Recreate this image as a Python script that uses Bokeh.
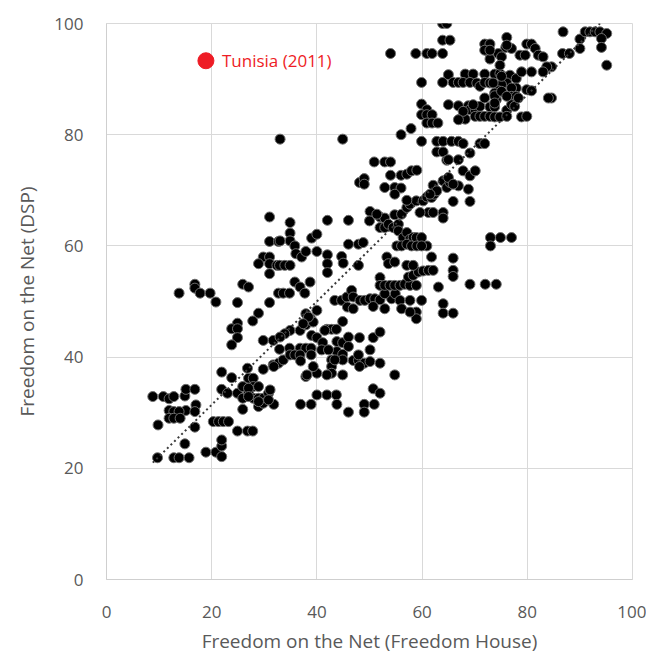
import numpy as np
from bokeh.plotting import figure
from bokeh.models import FixedTicker, ColumnDataSource
from bokeh.core.properties import value
from bokeh.embed import file_html
from bokeh.resources import INLINE

# ---- data: (Freedom House score, DSP score) ----
cluster_low = [(8.8,32.9),(10.8,32.9),(11.9,32.5),(12.8,32.9),(14.9,33.0),(15.1,34.2),(16.8,34.2),(17.0,31.4),(15.1,30.4),(11.9,30.4),(12.8,30.2),(13.8,30.2),(11.9,29.0),(12.8,29.0),(14.0,29.0),(9.8,27.8),(16.8,27.4),(16.8,30.2),(14.9,24.4),(9.7,21.9),(12.8,21.9),(13.8,21.9),(15.7,21.9),(18.9,22.9),(20.8,22.9),(21.9,22.1),(21.9,24.0),(21.9,25.1),(20.3,28.4),(21.3,28.4),(22.2,28.4),(23.2,28.4),(24.9,26.7),(26.8,26.7),(27.8,26.7),(21.9,34.2),(23.0,33.5),(24.9,33.5),(25.9,30.6),(21.9,37.3),(23.8,36.3),(25.9,34.7),(25.9,32.6),(27.0,36.2),(27.9,36.2),(27.9,34.7),(28.9,34.7),(27.0,33.5),(27.9,32.6),(28.9,32.6),(29.8,32.6),(30.8,33.5),(31.1,34.1),(31.8,31.5),(28.9,31.1),(29.8,31.7),(26.8,38.0),(29.8,37.8),(31.7,38.6),(32.7,38.9),(33.6,39.5),(27.0,34.4),(28.9,32.0),(27.0,32.9),(30.8,32.3)]

cluster_left = [(13.8,51.5),(16.8,53.1),(16.8,52.4),(17.8,51.5),(19.7,51.5),(20.8,49.9),(24.9,49.8),(31.0,49.8),(25.9,53.1),(27.0,52.6),(28.9,47.9),(27.8,46.5),(24.9,46.1),(23.8,45.1),(24.9,45.1),(24.9,43.5),(23.8,42.2),(29.8,43.0),(31.7,43.0),(31.0,65.2),(31.0,60.8),(32.7,60.8),(29.8,58.0),(31.0,58.0),(28.9,56.8),(31.0,56.8),(32.4,56.5),(31.0,55.0)]

cluster_center = [(34.9,64.2),(42.0,64.6),(46.0,64.6),(50.1,66.2),(50.0,64.5),(52.0,65.2),(52.9,65.0),(34.9,62.3),(34.9,60.9),(33.0,60.9),(35.8,60.0),(36.0,58.6),(37.1,58.0),(37.9,59.0),(39.0,61.4),(40.0,62.1),(40.0,59.0),(32.9,56.5),(33.9,56.5),(34.9,56.5),(42.0,58.4),(42.0,56.8),(42.0,55.2),(44.7,58.1),(45.0,56.9),(46.0,60.3),(47.9,60.3),(48.8,60.6),(47.9,56.5),(35.8,53.5),(36.8,52.6),(38.7,53.5),(32.7,51.5),(33.6,51.5),(34.8,51.5),(37.7,51.5),(37.9,47.8),(38.8,46.9),(40.0,48.4),(34.9,44.8),(33.9,44.2),(33.0,43.6),
                  (32.9,41.4),(36.8,44.8),(37.9,45.8),(34.8,41.6),(36.8,41.6),(37.9,41.6),(38.9,41.6),(34.9,40.4),(35.8,40.4),(36.8,40.4),(38.9,40.4),(36.9,39.3),(31.8,38.3),(39.0,43.9),(40.0,43.5),(41.1,42.6),(41.9,45.0),(42.8,45.0),(43.7,45.0),(44.9,46.4),(43.8,42.8),(44.9,42.6),(46.0,43.6),(48.1,43.5),(50.7,43.5),(52.0,44.5),(50.1,41.3),(43.8,41.0),(44.9,40.5),(42.8,39.5),(44.9,39.5),(46.9,39.4),(47.9,39.4),(49.0,38.9),(50.1,39.2),(52.0,38.9),(48.1,38.3),(42.8,38.3),(42.8,37.1),(41.9,36.8),(44.9,36.8),(40.0,37.1),(37.9,36.5),(54.8,36.8),(50.7,34.3),(52.0,33.5),(40.0,33.2),(41.9,33.2),(43.7,33.2),(36.9,31.5),(38.9,31.5),(43.8,31.5),(46.0,30.1),(49.0,31.5),(50.9,31.5),(49.0,30.1),
                  (39.3,38.3),(38.1,36.8),(40.9,41.3),(42.2,41.3),(43.4,39.5),(46.0,41.9),(47.9,40.4),(41.5,44.8),(39.3,46.3),(38.4,47.2),(37.4,46.0)]

cluster_mid = [(43.4,50.2),(44.7,50.2),(45.7,50.8),(46.6,52.0),(46.9,50.8),(45.8,49.0),(46.9,48.7),(48.2,50.2),(49.1,50.2),(50.1,50.5),(51.0,50.5),(52.0,50.3),(52.9,48.7),(54.2,50.5),(54.9,51.4),(55.8,50.2),(56.1,48.7),(57.7,50.2),(58.9,48.1),(59.9,50.2),(58.9,46.9),(57.7,48.1),(50.7,49.1),(52.9,51.4),(52.0,54.3),(52.0,52.9),(52.9,52.9),(53.9,52.9),(54.8,52.9),(55.8,52.9),(56.7,53.1),(57.7,52.9),(58.9,52.9),(57.4,54.4),(58.3,54.7),(59.3,55.3),(60.2,55.5),(61.2,55.6),(62.1,55.6),(63.1,52.6),(64.0,49.6),(64.0,47.9),(61.8,58.0),
               (51.4,65.7),(54.8,65.6),(56.1,65.7),(57.1,66.9),(57.7,67.5),(58.9,68.1),(60.2,68.1),(60.9,68.8),(61.8,68.7),(62.3,69.3),(61.2,66.0),(62.1,66.0),(64.0,66.0),(64.0,65.0),
               (52.0,63.3),(52.9,63.3),(53.6,63.9),(54.5,63.3),(55.5,63.9),(55.5,62.7),(56.4,61.5),(57.1,62.4),(57.7,61.2),(58.3,61.5),(58.9,61.5),(59.9,61.5),(60.9,60.0),(55.2,60.0),(56.1,60.0),(57.1,60.3),(58.0,60.0),(59.0,60.0),(59.9,60.0),(53.3,58.0),(53.6,56.8),(54.8,57.1),(57.1,56.5),(58.3,56.5),
               (65.9,68.0),(69.1,68.0),(73.0,61.5),(74.9,61.5),(77.0,61.5),(73.0,60.0),(65.9,57.8),(65.9,55.6),(65.9,54.5),(69.1,53.1),(72.0,53.1),(74.1,53.1),(65.9,47.9),(59.6,66.0)]

cluster_upper = [(33.0,79.2),(44.9,79.2),(50.9,75.1),(52.9,75.1),(54.0,75.1),(54.0,72.7),(56.0,72.7),(57.1,72.9),(58.0,73.5),(59.0,73.6),(48.1,71.4),(49.0,72.1),(49.0,71.1),(52.9,70.5),(54.8,70.5),(56.0,70.4),(54.8,69.3),(57.1,68.2),(62.1,70.9),(62.8,69.9),(61.5,69.3),(64.0,71.7),(64.7,70.5),(56.0,80.0),(57.9,81.1),(59.9,78.8),(62.8,78.8),(64.0,78.8),(62.8,76.9),(64.0,76.9),(64.7,75.4),(65.6,78.8),(66.9,78.8),(67.8,78.4),(65.0,75.5),(66.9,75.5),(69.1,76.7),(71.0,78.4),(71.9,78.4),(67.8,73.5),(69.1,72.6),(70.1,73.5),(68.8,70.2),(66.9,70.8),(65.3,71.4),(65.0,72.3),(65.9,71.1)]

cluster_top = [(54.0,94.6),(58.8,94.6),(60.9,94.6),(61.9,94.6),(63.9,94.6),(63.9,100),(64.7,100),(63.9,97.0),(65.3,97.0),(59.9,89.4),(63.9,89.4),(65.0,90.8),(59.9,85.5),(60.9,84.5),(59.9,83.6),(60.9,83.6),(61.9,83.6),(60.9,82.1),(61.9,82.1),(63.0,82.1),(65.0,85.4),
               (71.9,96.3),(72.9,96.3),(76.1,97.5),(75.9,95.7),(77.0,95.5),(79.9,96.3),(80.8,96.3),(81.5,95.5),(82.1,94.3),(83.0,94.0),(78.6,94.3),(79.6,94.3),(72.9,94.6),(74.5,94.6),(72.9,93.6),(75.1,94.0),(86.8,98.5),(86.7,94.6),(88.0,94.6),(84.6,92.2),(83.7,92.2),
               (65.9,89.4),(66.9,89.4),(68.2,90.9),(69.7,90.9),(67.8,89.4),(69.1,89.4),(70.4,89.3),(71.0,88.7),(71.9,90.9),(71.9,89.4),(72.9,89.3),(73.8,90.9),(74.8,91.0),(75.8,90.4),(76.7,90.7),(77.9,90.1),(78.9,91.3),(80.8,91.3),(83.0,91.3),(77.9,88.4),(79.9,88.1),(80.8,87.9),(76.1,89.3),(77.0,88.4),(75.1,89.0),(74.5,87.9),(73.8,87.5),
               (66.9,85.2),(68.8,85.2),(69.1,84.5),(70.1,84.5),(71.0,85.1),(71.9,86.6),(72.9,85.0),(73.8,85.0),(74.1,86.3),(73.8,87.0),(76.1,84.4),(67.2,82.8),(68.2,82.8),(70.1,83.3),(71.0,83.3),(71.9,83.3),(72.9,83.3),(73.8,83.2),(74.8,83.2),(76.1,83.3),(78.9,83.2),(79.9,83.3),(77.0,86.9),(77.9,86.9),(77.0,85.4),(77.6,85.1),(84.6,86.6),(84.0,86.6),
               (90.0,97.2),(91.0,98.5),(91.9,98.5),(92.9,98.5),(93.8,98.5),(95.1,98.2),(94.1,97.3),(90.0,95.5),(94.1,95.7),(95.1,92.5),
               (74.8,92.5),(75.1,90.5),(73.5,89.3),(75.1,87.8),(76.1,86.9),(73.8,85.7),(69.7,85.4),(67.8,84.2),(66.9,82.7),(78.3,86.6),(71.9,95.2),(72.9,95.2),(76.1,96.1)]

tunisia_fh = [18.9]
tunisia_dsp = [93.3]
tunisia_label = ["Tunisia (2011)"]

ticks = [0, 20, 40, 60, 80, 100]
x_title = "Freedom on the Net (Freedom House)"
y_title = "Freedom on the Net (DSP)"

all_pts = cluster_low + cluster_left + cluster_center + cluster_mid + cluster_upper + cluster_top
fh = np.array([p[0] for p in all_pts])
dsp = np.array([p[1] for p in all_pts])

FONT = "Open Sans"
GREY = "#595959"
GRID = "#d9d9d9"

p = figure(width=646, height=656, x_range=(0, 100), y_range=(0, 100),
           output_backend="svg", toolbar_location=None,
           min_border_left=106, min_border_right=14, min_border_top=23, min_border_bottom=74)
p.outline_line_color = GRID
p.background_fill_color = "white"
p.border_fill_color = "white"

for ax in (p.xaxis[0], p.yaxis[0]):
    ax.ticker = FixedTicker(ticks=ticks)
    ax.axis_line_color = "#cfcfcf"
    ax.major_tick_line_color = None
    ax.minor_tick_line_color = None
    ax.major_tick_out = 0
    ax.major_tick_in = 0
    ax.major_label_text_font = FONT
    ax.major_label_text_font_size = "17px"
    ax.major_label_text_color = GREY
    ax.axis_label_text_font = FONT
    ax.axis_label_text_font_size = "19px"
    ax.axis_label_text_font_style = "normal"
    ax.axis_label_text_color = GREY

p.xaxis.axis_label = x_title
p.yaxis.axis_label = y_title
p.xaxis.major_label_standoff = 26
p.xaxis.axis_label_standoff = 7
p.yaxis.major_label_standoff = 23
p.yaxis.axis_label_standoff = 11

p.grid.ticker = FixedTicker(ticks=ticks)
p.grid.grid_line_color = GRID
p.grid.grid_line_width = 1

src = ColumnDataSource(dict(x=fh, y=dsp))
p.scatter("x", "y", source=src, size=10, fill_color="black", line_color="#6e6e6e", line_width=1)

# linear trendline fitted to the data
slope, intercept = np.polyfit(fh, dsp, 1)
tx = np.array([fh.min(), fh.max()])
p.line(tx, slope * tx + intercept, line_color="#3a3a3a", line_width=2, line_dash="2 3")

tsrc = ColumnDataSource(dict(x=tunisia_fh, y=tunisia_dsp, t=tunisia_label))
p.scatter("x", "y", source=tsrc, size=16, fill_color="#ee1c25", line_color="#ee1c25")
p.text("x", "y", text="t", source=tsrc, x_offset=16, text_baseline="middle",
       text_font=value(FONT), text_font_size="17px", text_color="#ee1c25")

open("out.html", "w").write(file_html(p, INLINE))
